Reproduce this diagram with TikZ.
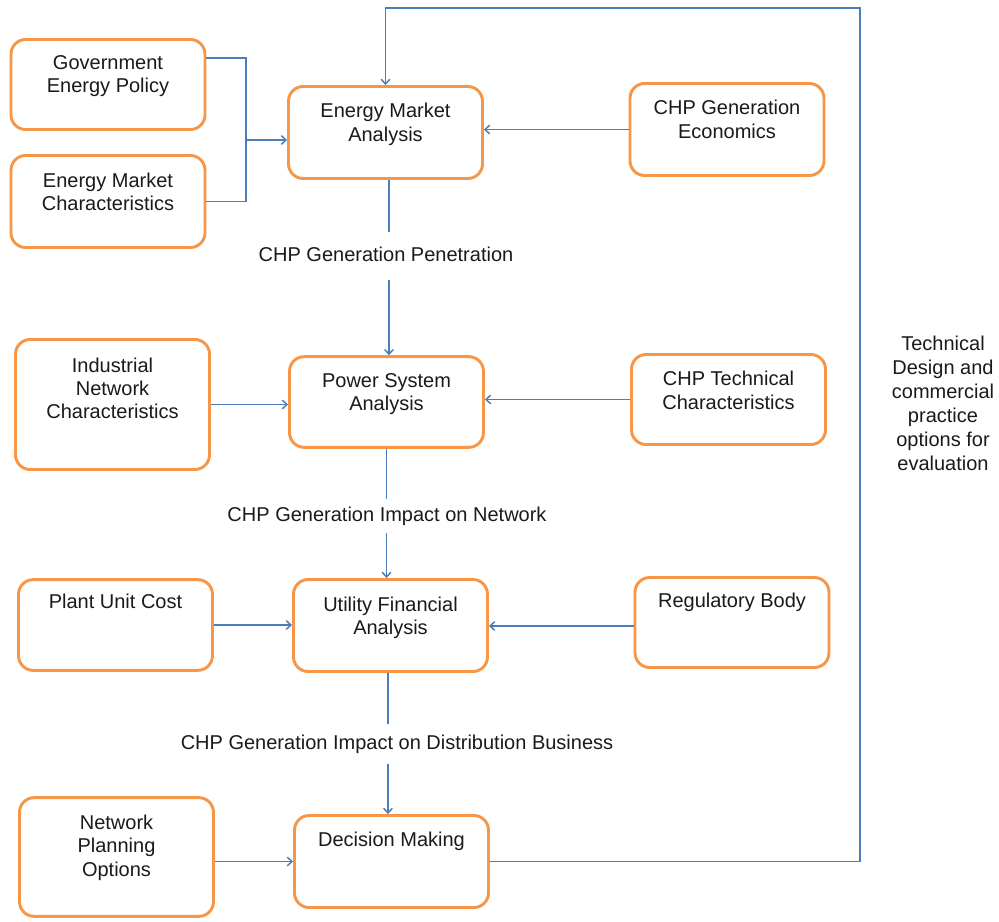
\documentclass[tikz,border=0pt]{standalone}
\usepackage{fontspec}
\setmainfont{Liberation Sans}
\usetikzlibrary{arrows.meta}
\definecolor{boxorange}{HTML}{F79646}
\definecolor{lineblue}{HTML}{4A7EBB}
\definecolor{txtcol}{HTML}{1A1A1A}
\tikzset{
  box/.style={draw=boxorange, line width=2.2pt, rounded corners=11pt, fill=white,
    minimum width=145.5pt, inner sep=0pt},
  boxtxt/.style={anchor=north, align=center, inner sep=0pt, text=txtcol,
    font=\fontsize{15pt}{17.5pt}\selectfont},
  lbl/.style={align=center, inner xsep=2pt, text=txtcol, text height=10.5pt, text depth=3pt,
    font=\fontsize{15pt}{17.5pt}\selectfont},
  conn/.style={draw=lineblue, line width=1.1pt},
  arr/.style={conn, -{Straight Barb[length=3.5pt,width=6.5pt]}},
}
\begin{document}
\begin{tikzpicture}[x=0.75pt,y=-0.75pt]
\useasboundingbox (0,0) rectangle (999,921);

% boxes
\node[box, minimum height=67.5pt] (gov) at (108,84.5) {};
\node[box, minimum height=69pt] (emc) at (108,201.5) {};
\node[box, minimum height=69pt] (ema) at (385.5,132.5) {};
\node[box, minimum height=69pt] (cge) at (727,129.5) {};
\node[box, minimum height=97.5pt] (inc) at (112.5,404.5) {};
\node[box, minimum height=68pt] (psa) at (386.5,402) {};
\node[box, minimum height=67.5pt] (cte) at (728.5,399.5) {};
\node[box, minimum height=68pt] (puc) at (115.5,625) {};
\node[box, minimum height=69pt] (ufa) at (390.5,625.5) {};
\node[box, minimum height=67.5pt] (reg) at (732,622.5) {};
\node[box, minimum height=89pt] (npo) at (116.5,857) {};
\node[box, minimum height=69pt] (dm) at (391.5,861.5) {};

% box texts
\node[boxtxt] (govt) at ([yshift=-13pt]gov.north) {Government\\Energy Policy};
\node[boxtxt] (emct) at ([yshift=-14pt]emc.north) {Energy Market\\Characteristics};
\node[boxtxt] (emat) at ([yshift=-13.5pt]ema.north) {Energy Market\\Analysis};
\node[boxtxt] (cget) at ([yshift=-13.5pt]cge.north) {CHP Generation\\Economics};
\node[boxtxt] (inct) at ([yshift=-14.5pt]inc.north) {Industrial\\Network\\Characteristics};
\node[boxtxt] (psat) at ([yshift=-13.5pt]psa.north) {Power System\\Analysis};
\node[boxtxt] (ctet) at ([yshift=-13.5pt]cte.north) {CHP Technical\\Characteristics};
\node[boxtxt] (puct) at ([yshift=-12pt]puc.north) {Plant Unit Cost};
\node[boxtxt] (ufat) at ([yshift=-14pt]ufa.north) {Utility Financial\\Analysis};
\node[boxtxt] (regt) at ([yshift=-12.5pt]reg.north) {Regulatory Body};
\node[boxtxt] (npot) at ([yshift=-14pt]npo.north) {Network\\Planning\\Options};
\node[boxtxt] (dmt) at ([yshift=-13.5pt]dm.north) {Decision Making};

% flow labels
\node[lbl, inner ysep=11pt] (pen) at (386,256) {CHP Generation Penetration};
\node[lbl, inner ysep=6pt] (net) at (387,516) {CHP Generation Impact on Network};
\node[lbl, inner ysep=8pt] (dist) at (397,744) {CHP Generation Impact on Distribution Business};
\node[align=center, inner sep=0pt, text=txtcol, font=\fontsize{15pt}{18pt}\selectfont] (tech) at (943,403)
  {Technical\\Design and\\commercial\\practice\\options for\\evaluation};

% connectors
\coordinate (j) at (246,140);
\coordinate (fb) at (860,8);
\draw[conn] ([yshift=19.9pt]gov.east) -| (j);
\draw[conn] (emc.east) -| (j);
\draw[arr] (j) -- (ema.west |- j);
\draw[arr] (cge.west) -- (ema.east |- cge.west);
\draw[arr] (dm.east) -| (fb) -| (ema.north);

\draw[conn] ([xshift=2.6pt]ema.south) -- ([xshift=2.6pt]ema.south |- pen.north);
\draw[arr] ([xshift=2.6pt]ema.south |- pen.south) -- ([xshift=2.6pt]ema.south |- psa.north);
\draw[arr] (inc.east) -- (psa.west |- inc.east);
\draw[arr] (cte.west) -- (psa.east |- cte.west);

\draw[conn] (psa.south) -- (psa.south |- net.north);
\draw[arr] (psa.south |- net.south) -- (psa.south |- ufa.north);
\draw[arr] (puc.east) -- (ufa.west |- puc.east);
\draw[arr] ([yshift=-2.6pt]reg.west) -- ([yshift=-2.6pt]ufa.east |- reg.west);

\draw[conn] ([xshift=-1.9pt]ufa.south) -- ([xshift=-1.9pt]ufa.south |- dist.north);
\draw[arr] ([xshift=-1.9pt]ufa.south |- dist.south) -- ([xshift=-1.9pt]ufa.south |- dm.north);
\draw[arr] (npo.east |- dm.west) -- (dm.west);
\end{tikzpicture}
\end{document}
